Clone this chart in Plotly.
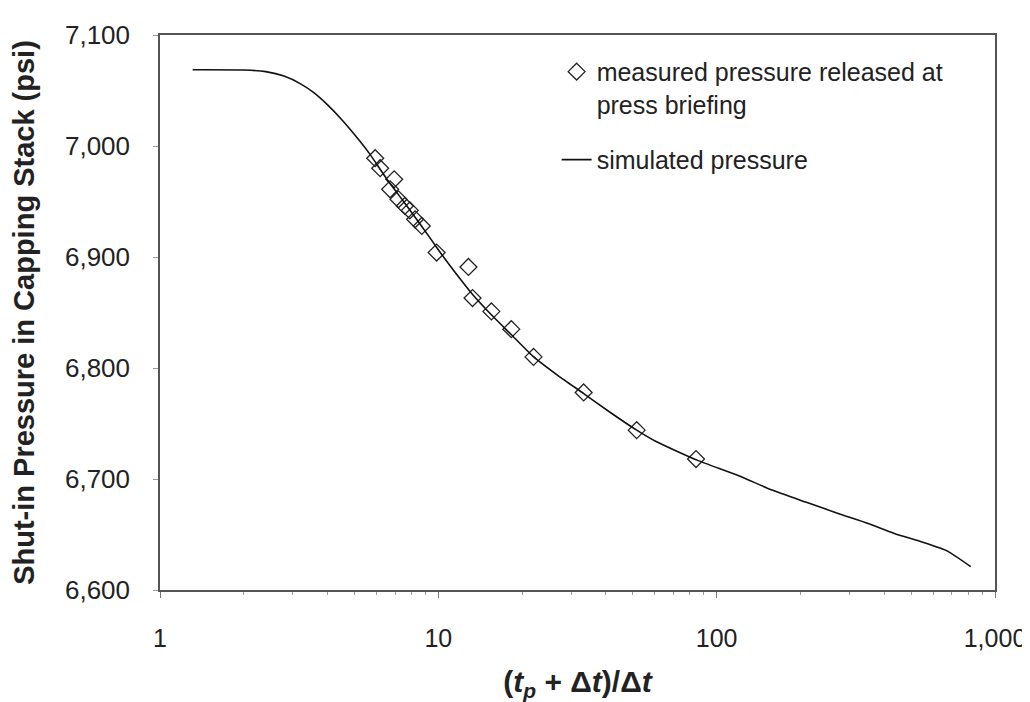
import plotly.graph_objects as go

# Measured pressure released at press briefing
meas_x = [5.93, 6.18, 6.94, 6.71, 7.19, 7.58, 7.90, 8.25, 8.72, 9.86, 12.83, 13.27,
          15.51, 18.29, 21.98, 33.27, 51.6, 84.3]
meas_y = [6989, 6980, 6970, 6961, 6952, 6946, 6942, 6934, 6928, 6904, 6891, 6863,
          6851, 6835, 6810, 6778, 6744, 6718]

# Simulated pressure
sim_x = [1.31, 2.0, 2.4, 2.79, 3.2, 3.57, 4.0, 4.45, 5.24, 5.7, 6.5, 7.5, 8.7, 10.1,
         11.5, 13.3, 15.5, 18.3, 21.8, 27, 33.3, 42, 51.6, 60.3, 85, 120, 158, 210,
         273, 350, 435, 550, 675, 818]
sim_y = [7068.7, 7068.5, 7067, 7063, 7056, 7048, 7037, 7025, 7004, 6992, 6971, 6950,
         6928, 6905, 6886, 6866, 6848, 6830, 6811, 6793, 6777, 6759, 6744, 6734, 6717,
         6703, 6690, 6679, 6669, 6660, 6651, 6643, 6635, 6621]

x_ticks = [1, 10, 100, 1000]
x_ticklabels = ["1", "10", "100", "1,000"]
y_ticks = [6600, 6700, 6800, 6900, 7000, 7100]
y_ticklabels = ["6,600", "6,700", "6,800", "6,900", "7,000", "7,100"]

FONT = "Liberation Sans, Arial, sans-serif"

fig = go.Figure()
fig.add_trace(go.Scatter(
    x=meas_x, y=meas_y, mode="markers",
    name="measured pressure released at<br>press briefing",
    legendgroup="a",
    marker=dict(symbol="diamond-open", size=13, color="#222", line=dict(width=1.3, color="#222")),
))
fig.add_trace(go.Scatter(
    x=sim_x, y=sim_y, mode="lines", name="simulated pressure",
    legendgroup="b",
    line=dict(color="#111", width=1.6, shape="spline", smoothing=0.5),
))

fig.update_layout(
    width=1030, height=702,
    margin=dict(l=152, r=39, t=27, b=120),
    paper_bgcolor="white", plot_bgcolor="white",
    font=dict(family=FONT, size=25, color="#222"),
    showlegend=True,
    legend=dict(x=0.475, y=0.975, xanchor="left", yanchor="top",
                bgcolor="rgba(0,0,0,0)", font=dict(size=25, color="#222"),
                valign="top", tracegroupgap=20, itemwidth=30),
    xaxis=dict(
        type="log", range=[0, 3],
        tickvals=x_ticks, ticktext=x_ticklabels,
        tickfont=dict(size=25),
        showline=True, linecolor="#555", linewidth=1.5, mirror=True,
        showgrid=False, zeroline=False,
        ticks="outside", ticklen=6, tickcolor="#777",
        minor=dict(ticks="outside", ticklen=3, tickcolor="#999", showgrid=False, dtick="D1"),
        ticklabelstandoff=19,
        title=dict(text="<b>(<i>t<sub>p</sub></i> + Δ<i>t</i>)/Δ<i>t</i></b>",
                   font=dict(size=30, color="#222"), standoff=20),
    ),
    yaxis=dict(
        range=[6600, 7100],
        tickvals=y_ticks, ticktext=y_ticklabels,
        tickfont=dict(size=26),
        showline=True, linecolor="#555", linewidth=1.5, mirror=True,
        showgrid=False, zeroline=False,
        ticks="outside", ticklen=5, tickcolor="#999",
        ticklabelstandoff=18,
        title=dict(text="<b>Shut-in Pressure in Capping Stack (psi)</b>",
                   font=dict(size=29, color="#222"), standoff=23),
    ),
)

fig.write_html("out.html")
